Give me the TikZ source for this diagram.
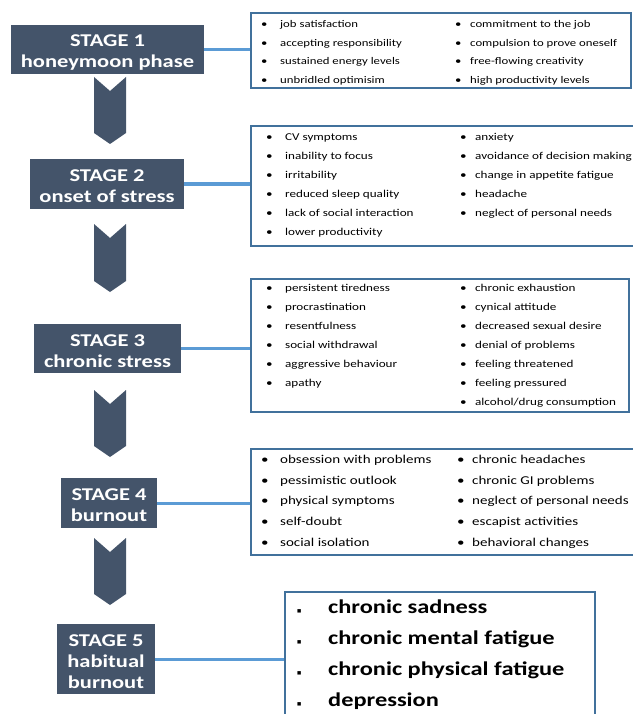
\documentclass[tikz,border=0pt]{standalone}
\usepackage{fontspec}
\setmainfont{Carlito}[FakeStretch=1.25]
\newfontfamily\symfont{DejaVu Sans}
\usetikzlibrary{positioning}

\definecolor{stageblue}{HTML}{44546A}
\definecolor{linkblue}{HTML}{5B9BD5}
\definecolor{panelblue}{HTML}{41719C}

\newcommand{\bul}[1]{\makebox[#1][l]{\textbullet}}
\newcommand{\sqbul}{\makebox[31pt][l]{\symfont\fontsize{4.5}{6}\selectfont\raisebox{0.5pt}{■}}}
\newcommand{\tp}{\rule{0pt}{17pt}}

\tikzset{
stagebox/.style={fill=stageblue, text=white, font=\fontsize{18}{21}\selectfont\bfseries, align=center, inner sep=0pt},
chevron/.style={fill=stageblue, draw=none},
link/.style={draw=linkblue, line width=3pt},
panel/.style={draw=panelblue, line width=2pt, fill=white, inner sep=0pt},
item/.style={anchor=mid west, inner sep=0pt, font=\fontsize{10.2}{12}\selectfont},
}

\begin{document}
\begin{tikzpicture}[x=1pt,y=-1pt]
\useasboundingbox (0,0) rectangle (632,714);

% stages
\node[stagebox, minimum width=193pt, minimum height=49pt] (s1) at (107.5,49.5) {\tp STAGE 1\\honeymoon phase};
\node[stagebox, minimum width=154pt, minimum height=50pt] (s2) at (107,184) {\tp STAGE 2\\onset of stress};
\node[stagebox, minimum width=147pt, minimum height=49pt] (s3) at (107.5,348.5) {\tp STAGE 3\\chronic stress};
\node[stagebox, minimum width=96pt, minimum height=50pt] (s4) at (109,503) {\tp STAGE 4\\burnout};
\node[stagebox, minimum width=98pt, minimum height=70pt] (s5) at (106,659) {\tp STAGE 5\\habitual\\burnout};

% chevrons between stages
\foreach \t/\b in {77/144, 224/292, 390/457, 538/605}
  \fill[chevron] (94,\t) -- (110,\t+14) -- (126,\t) -- (126,\b-11) -- (110,\b) -- (94,\b-11) -- cycle;

% panels
\node[panel, minimum width=380pt, minimum height=75pt] (p1) at (441,50.5) {};
\node[panel, minimum width=420pt, minimum height=119pt] (p2) at (461,186) {};
\node[panel, minimum width=378pt, minimum height=133pt] (p3) at (440,345.5) {};
\node[panel, minimum width=420pt, minimum height=106pt] (p4) at (461,502) {};
\node[panel, minimum width=310pt, minimum height=140pt] (p5) at (440,662) {};

\draw[link] (s1.east) -- (s1.east -| p1.west);
\draw[link] (s2.east) -- (s2.east -| p2.west);
\draw[link] (s3.east) -- (s3.east -| p3.west);
\draw[link] (s4.east) -- (s4.east -| p4.west);
\draw[link] (s5.east) -- (s5.east -| p5.west);

% stage 1 items
\foreach \t [count=\i] in {job satisfaction, accepting responsibility, sustained energy levels, unbridled optimisim}
  \node[item] (p1a\i) at (261,{25+18.7*(\i-1)}) {\bul{19pt}\t};
\foreach \t [count=\i] in {commitment to the job, compulsion to prove oneself, free-flowing creativity, high productivity levels}
  \node[item] (p1b\i) at (455,{25+18.7*(\i-1)}) {\bul{15pt}\t};

% stage 2 items
\foreach \t [count=\i] in {CV symptoms, inability to focus, irritability, reduced sleep quality, lack of social interaction, lower productivity}
  \node[item, font=\fontsize{10.5}{12}\selectfont] (p2a\i) at (266,{138+19*(\i-1)}) {\bul{19pt}\t};
\foreach \t [count=\i] in {anxiety, avoidance of decision making, change in appetite fatigue, headache, neglect of personal needs}
  \node[item, font=\fontsize{10.5}{12}\selectfont] (p2b\i) at (460,{138+19*(\i-1)}) {\bul{15pt}\t};

% stage 3 items
\foreach \t [count=\i] in {persistent tiredness, procrastination, resentfulness, social withdrawal, aggressive behaviour, apathy}
  \node[item, font=\fontsize{10.5}{12}\selectfont] (p3a\i) at (266,{289+19*(\i-1)}) {\bul{19pt}\t};
\foreach \t [count=\i] in {chronic exhaustion, cynical attitude, decreased sexual desire, denial of problems, feeling threatened, feeling pressured, alcohol/drug consumption}
  \node[item, font=\fontsize{10.5}{12}\selectfont] (p3b\i) at (460,{289+19*(\i-1)}) {\bul{15pt}\t};

% stage 4 items
\foreach \t [count=\i] in {obsession with problems, pessimistic outlook, physical symptoms, self-doubt, social isolation}
  \node[item, font=\fontsize{12}{14}\selectfont] (p4a\i) at (261,{461+20.75*(\i-1)}) {\bul{19pt}\t};
\foreach \t [count=\i] in {chronic headaches, chronic GI problems, neglect of personal needs, escapist activities, behavioral changes}
  \node[item, font=\fontsize{12}{14}\selectfont] (p4b\i) at (457,{461+20.75*(\i-1)}) {\bul{15pt}\t};

% stage 5 items
\foreach \t [count=\i] in {chronic sadness, chronic mental fatigue, chronic physical fatigue, depression}
  \node[item, font=\fontsize{19.5}{22}\selectfont\bfseries] (p5a\i) at (297,{611+31*(\i-1)}) {\sqbul\t};

\end{tikzpicture}
\end{document}
